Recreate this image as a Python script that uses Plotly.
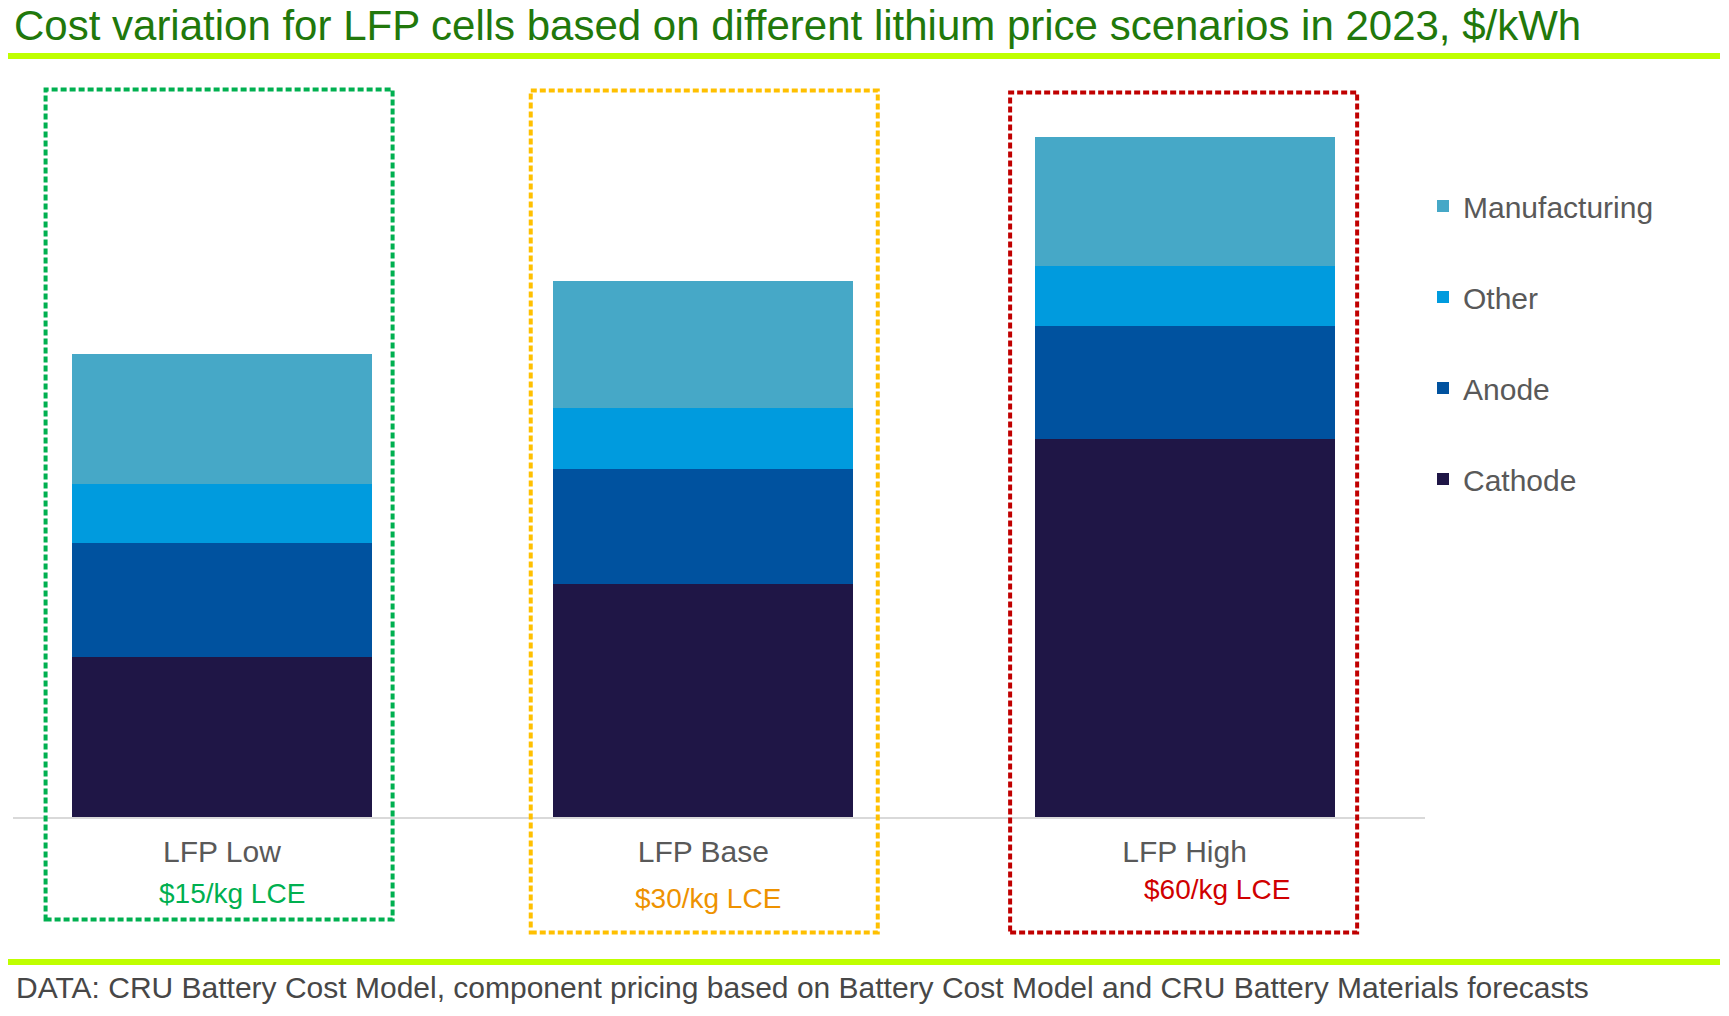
import plotly.graph_objects as go

# LFP cell cost by lithium price scenario, $/kWh
scenarios = ["LFP Low", "LFP Base", "LFP High"]
price_notes = ["$15/kg LCE", "$30/kg LCE", "$60/kg LCE"]
cathode = [27.8, 40.6, 65.7]
anode = [19.8, 20.0, 19.8]
other = [10.4, 10.5, 10.4]
manufacturing = [22.6, 22.1, 22.5]

W, H = 1729, 1016
L, R, T, B = 13, 304, 70, 199
PW, PH = W - L - R, H - T - B

def px_x(px):
    return (px - L) / PW

def px_y(py):
    return (H - B - py) / PH

font_name = "Liberation Sans, Arial, sans-serif"
box_colors = ["#00b050", "#ffc000", "#c00000"]
note_colors = ["#00b050", "#ee9200", "#d00000"]

fig = go.Figure()
series = [("Cathode", cathode, "#1f1646", 4),
          ("Anode", anode, "#00529f", 3),
          ("Other", other, "#009bde", 2),
          ("Manufacturing", manufacturing, "#46a8c7", 1)]
for name, vals, col, rank in series:
    fig.add_trace(go.Bar(x=scenarios, y=vals, name=name, legendgroup=name,
                         legendrank=rank,
                         marker=dict(color=col, line=dict(width=0)),
                         width=0.623))

# dotted boxes around each scenario
box_top = [89.5, 90.5, 92.5]
box_bot = [919.5, 932.5, 932.5]
box_shift = [-0.006, 0.002, -0.002]
for i in range(len(scenarios)):
    fig.add_shape(type="rect", xref="x", yref="paper",
                  x0=i + box_shift[i] - 0.3605, x1=i + box_shift[i] + 0.3605,
                  y0=px_y(box_bot[i]), y1=px_y(box_top[i]),
                  line=dict(color=box_colors[i], width=4, dash="6px,3px"),
                  fillcolor="rgba(0,0,0,0)", layer="above")

# lime rules under the title and above the footer
for yy in [56, 962]:
    fig.add_shape(type="line", xref="paper", yref="paper",
                  x0=px_x(8), x1=px_x(1720), y0=px_y(yy), y1=px_y(yy),
                  line=dict(color="#bfff00", width=6))

note_x = [232, 708, 1217]
note_y = [893, 898, 889]
for i, txt in enumerate(price_notes):
    fig.add_annotation(text=txt, xref="paper", yref="paper",
                       x=px_x(note_x[i]), y=px_y(note_y[i]),
                       xanchor="center", yanchor="middle", showarrow=False,
                       font=dict(size=28, color=note_colors[i], family=font_name))

fig.add_annotation(text="DATA: CRU Battery Cost Model, component pricing based on Battery Cost Model and CRU Battery Materials forecasts",
                   xref="paper", yref="paper", x=px_x(14), y=px_y(987),
                   xanchor="left", yanchor="middle", showarrow=False,
                   font=dict(size=30, color="#474747", family=font_name))

fig.update_layout(
    width=W, height=H,
    margin=dict(l=L, r=R, t=T, b=B),
    paper_bgcolor="white", plot_bgcolor="white",
    barmode="stack",
    font=dict(family=font_name, color="#595959"),
    title=dict(text="Cost variation for LFP cells based on different lithium price scenarios in 2023, $/kWh",
               xref="container", yref="container", x=14 / W, xanchor="left",
               y=1 - 25 / H, yanchor="middle",
               font=dict(size=42, color="#21780b", family=font_name)),
    legend=dict(x=px_x(1423), xanchor="left", y=px_y(180), yanchor="top",
                traceorder="grouped", tracegroupgap=49,
                font=dict(size=30, color="#595959", family=font_name),
                bgcolor="rgba(0,0,0,0)"),
    xaxis=dict(range=[-0.4342, 2.4995], showline=True, linecolor="#d9d9d9",
               linewidth=2, ticks="", showgrid=False, zeroline=False,
               ticklabelstandoff=7,
               tickfont=dict(size=30, color="#595959", family=font_name)),
    yaxis=dict(range=[0, 130], showticklabels=False, showgrid=False,
               zeroline=False, showline=False, ticks=""),
)

fig.write_html("out.html", config={"displayModeBar": False},
               post_script="document.body.style.margin='0';")
